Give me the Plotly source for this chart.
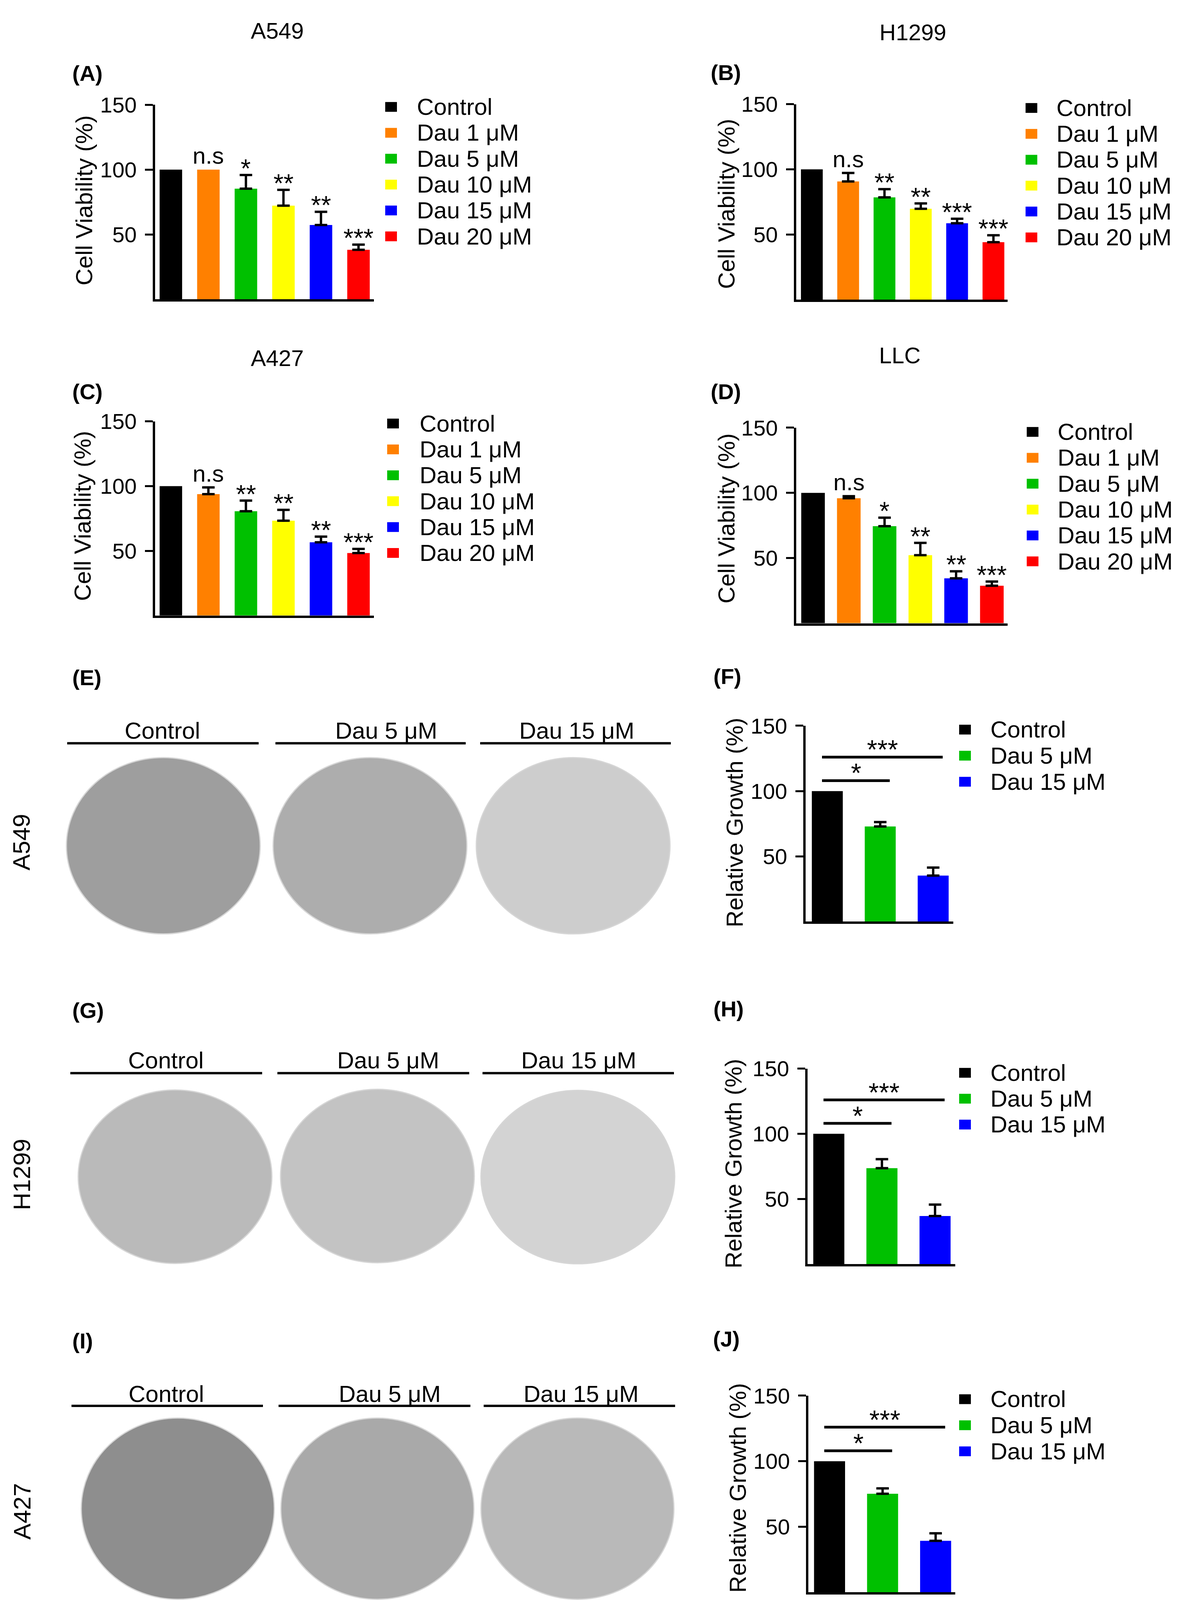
import plotly.graph_objects as go

W, H = 3051, 4539
FONT = "Liberation Sans, Arial, sans-serif"

# treatment groups
conc_labels = ["Control", "Dau 1 μM", "Dau 5 μM", "Dau 10 μM", "Dau 15 μM", "Dau 20 μM"]
conc_colors = ["#000000", "#FF8000", "#00C000", "#FFFF00", "#0000FF", "#FF0000"]
colony_labels = ["Control", "Dau 5 μM", "Dau 15 μM"]
colony_colors = ["#000000", "#00C000", "#0000FF"]

# cell viability (%), mean and upper SD (None = no error bar drawn)
a549_viab = [100, 100, 85.3, 72.2, 57.3, 38.2]
a549_err = [None, None, 10.6, 12.2, 10.2, 4.0]
a549_sig = ["", "n.s", "*", "**", "**", "***"]

h1299_viab = [100, 90.7, 78.5, 69.7, 58.6, 44.1]
h1299_err = [None, 6.5, 6.3, 4.1, 3.5, 5.3]
h1299_sig = ["", "n.s", "**", "**", "***", "***"]

a427_viab = [100, 93.8, 80.6, 73.3, 56.6, 48.3]
a427_err = [None, 5.2, 8.2, 8.4, 4.4, 3.2]
a427_sig = ["", "n.s", "**", "**", "**", "***"]

llc_viab = [100, 95.9, 74.5, 52.2, 34.5, 28.8]
llc_err = [None, 1.6, 6.5, 9.5, 5.4, 3.2]
llc_sig = ["", "n.s", "*", "**", "**", "***"]

# colony formation, relative growth (%)
a549_growth = [100, 72.9, 35.3]
a549_growth_err = [None, 3.4, 6.1]
h1299_growth = [100, 73.6, 36.9]
h1299_growth_err = [None, 6.9, 8.8]
a427_growth = [100, 75.2, 39.3]
a427_growth_err = [None, 4.1, 5.7]
colony_pairs = [(0, 1, "*"), (0, 2, "***")]

y_ticks = [50, 100, 150]


def X(p):
    return p / W


def Y(p):
    return 1 - p / H


bar_panels = [
    dict(vals=a549_viab, errs=a549_err, sig=a549_sig, labels=conc_labels, colors=conc_colors,
         box=(397, 957, 821, 265), xr=[-0.42, 5.41], bw=0.6, tag="(A)", tag_xy=(183, 175),
         title="A549", title_xy=(709, 53), ytitle="Cell Viability (%)", ytitle_xy=(216, 538),
         leg=(1001, 1065, 271, 74)),
    dict(vals=h1299_viab, errs=h1299_err, sig=h1299_sig, labels=conc_labels, colors=conc_colors,
         box=(2038, 2579, 822, 263), xr=[-0.43, 5.39], bw=0.6, tag="(B)", tag_xy=(1817, 173),
         title="H1299", title_xy=(2336, 58), ytitle="Cell Viability (%)", ytitle_xy=(1860, 548),
         leg=(2640, 2702, 274, 74)),
    dict(vals=a427_viab, errs=a427_err, sig=a427_sig, labels=conc_labels, colors=conc_colors,
         box=(397, 957, 1725, 1170), xr=[-0.42, 5.41], bw=0.6, tag="(C)", tag_xy=(183, 1085),
         title="A427", title_xy=(709, 989), ytitle="Cell Viability (%)", ytitle_xy=(212, 1440),
         leg=(1006, 1072, 1176, 74)),
    dict(vals=llc_viab, errs=llc_err, sig=llc_sig, labels=conc_labels, colors=conc_colors,
         box=(2038, 2579, 1747, 1188), xr=[-0.47, 5.44], bw=0.66, tag="(D)", tag_xy=(1817, 1085),
         title="LLC", title_xy=(2303, 981), ytitle="Cell Viability (%)", ytitle_xy=(1860, 1447),
         leg=(2643, 2705, 1200, 74)),
    dict(vals=a549_growth, errs=a549_growth_err, sig=None, labels=colony_labels, colors=colony_colors,
         box=(2062, 2440, 2600, 2040), xr=[-0.41, 2.38], bw=0.585, tag="(F)", tag_xy=(1824, 1899),
         title=None, title_xy=None, ytitle="Relative Growth (%)", ytitle_xy=(1880, 2317),
         leg=(2470, 2533, 2051, 74.5)),
    dict(vals=h1299_growth, errs=h1299_growth_err, sig=None, labels=colony_labels, colors=colony_colors,
         box=(2067, 2445, 3579, 3020), xr=[-0.4, 2.38], bw=0.585, tag="(H)", tag_xy=(1824, 2849),
         title=None, title_xy=None, ytitle="Relative Growth (%)", ytitle_xy=(1877, 3292),
         leg=(2470, 2533, 3032, 74)),
    dict(vals=a427_growth, errs=a427_growth_err, sig=None, labels=colony_labels, colors=colony_colors,
         box=(2069, 2445, 4517, 3955), xr=[-0.4, 2.37], bw=0.585, tag="(J)", tag_xy=(1823, 3793),
         title=None, title_xy=None, ytitle="Relative Growth (%)", ytitle_xy=(1888, 4219),
         leg=(2470, 2533, 3965, 74.5)),
]

# colony photo rows (dishes drawn as flat grey discs)
dish_rows = [
    dict(tag="(E)", tag_xy=(183, 1902), row="A549", row_xy=(54, 2373), label_y=2054,
         label_x=[415, 988, 1476], line_y=2090, lines=[(172, 662), (705, 1192), (1229, 1717)],
         dishes=[(418, 2383), (947, 2383), (1467, 2383)], r=(248, 252),
         tones=["#9e9e9e", "#adadad", "#cdcdcd"]),
    dict(tag="(G)", tag_xy=(183, 2854), row="H1299", row_xy=(56, 3323), label_y=2996,
         label_x=[424, 993, 1481], line_y=3033, lines=[(180, 671), (710, 1201), (1235, 1725)],
         dishes=[(448, 3329), (966, 3327), (1479, 3330)], r=(248, 248),
         tones=["#bababa", "#c3c3c3", "#d3d3d3"]),
    dict(tag="(I)", tag_xy=(183, 3798), row="A427", row_xy=(56, 4286), label_y=3950,
         label_x=[426, 997, 1487], line_y=3984, lines=[(183, 673), (713, 1204), (1238, 1728)],
         dishes=[(455, 4278), (966, 4278), (1478, 4278)], r=(247, 259),
         tones=["#8e8e8e", "#a9a9a9", "#b9b9b9"]),
]

fig = go.Figure()
shapes = []
annotations = []
axes = {}


def text(x, y, s, size=60, bold=False, xanchor="center", yanchor="middle", angle=0):
    annotations.append(dict(
        x=X(x), y=Y(y), xref="paper", yref="paper", text=f"<b>{s}</b>" if bold else s,
        showarrow=False, xanchor=xanchor, yanchor=yanchor, textangle=angle,
        font=dict(family=FONT, size=size, color="black")))


for i, p in enumerate(bar_panels, start=1):
    xa = "x" if i == 1 else f"x{i}"
    ya = "y" if i == 1 else f"y{i}"
    left, right, base, top = p["box"]
    n = len(p["vals"])
    cats = list(range(n))

    fig.add_trace(go.Bar(
        x=cats, y=p["vals"], width=p["bw"], xaxis=xa, yaxis=ya,
        marker=dict(color=p["colors"], line=dict(width=0)),
        hovertext=p["labels"], showlegend=False))

    # upward-only SD bars, only where an error was reported
    has_err = [k for k in cats if p["errs"][k] is not None]
    fig.add_trace(go.Scatter(
        x=has_err, y=[p["vals"][k] for k in has_err], xaxis=xa, yaxis=ya,
        mode="markers", marker=dict(size=1, opacity=0), hoverinfo="skip",
        error_y=dict(type="data", array=[p["errs"][k] for k in has_err],
                     arrayminus=[0] * len(has_err), symmetric=False,
                     color="black", thickness=6, width=16),
        showlegend=False))

    axes["xaxis" if i == 1 else f"xaxis{i}"] = dict(
        domain=[X(left), X(right)], range=p["xr"], anchor=ya, showline=True,
        linecolor="black", linewidth=6, showticklabels=False, ticks="",
        showgrid=False, zeroline=False, fixedrange=True)
    axes["yaxis" if i == 1 else f"yaxis{i}"] = dict(
        domain=[Y(base), Y(top)], range=[0, 150], anchor=xa, showline=True,
        linecolor="black", linewidth=6, ticks="outside", ticklen=20, tickwidth=5,
        tickcolor="black", tickvals=y_ticks, ticklabelstandoff=10,
        tickfont=dict(family=FONT, size=56, color="black"),
        showgrid=False, zeroline=False, fixedrange=True)

    # significance over single bars
    if p["sig"]:
        for k, s in enumerate(p["sig"]):
            if not s:
                continue
            star = "*" in s
            annotations.append(dict(
                x=k, y=p["vals"][k] + (p["errs"][k] or 0), xref=xa, yref=ya, text=s,
                showarrow=False, xanchor="center", yanchor="bottom",
                yshift=-22 if star else 0,
                font=dict(family=FONT, size=66 if star else 60, color="black")))
    else:
        # comparison brackets against control
        for (a, b, s), h in zip(colony_pairs, [108, 126]):
            shapes.append(dict(type="line", xref=xa, yref=ya, x0=a - 0.1, x1=b + 0.18,
                               y0=h, y1=h, line=dict(color="black", width=7)))
            annotations.append(dict(
                x=(a - 0.1 + b + 0.18) / 2, y=h, xref=xa, yref=ya, text=s,
                showarrow=False, xanchor="center", yanchor="bottom", yshift=-20,
                font=dict(family=FONT, size=68, color="black")))

    # manual legend
    sqx, tx, y0, dy = p["leg"]
    for k, (lab, col) in enumerate(zip(p["labels"], p["colors"])):
        ry = y0 + k * dy
        shapes.append(dict(type="rect", xref="paper", yref="paper",
                           x0=X(sqx - 15), x1=X(sqx + 15), y0=Y(ry + 14), y1=Y(ry - 14),
                           fillcolor=col, line=dict(width=0)))
        text(tx, ry, lab, xanchor="left")

    text(p["tag_xy"][0], p["tag_xy"][1], p["tag"], size=56, bold=True, xanchor="left")
    if p["title"]:
        text(p["title_xy"][0], p["title_xy"][1], p["title"], size=58)
    text(p["ytitle_xy"][0], p["ytitle_xy"][1], p["ytitle"], angle=-90)

for row in dish_rows:
    text(row["tag_xy"][0], row["tag_xy"][1], row["tag"], size=56, bold=True, xanchor="left")
    text(row["row_xy"][0], row["row_xy"][1], row["row"], size=62, angle=-90)
    rx, ry = row["r"]
    for lab, lx, (l0, l1), (cx, cy), tone in zip(colony_labels, row["label_x"], row["lines"],
                                                  row["dishes"], row["tones"]):
        text(lx, row["label_y"], lab)
        shapes.append(dict(type="line", xref="paper", yref="paper", x0=X(l0), x1=X(l1),
                           y0=Y(row["line_y"]), y1=Y(row["line_y"]),
                           line=dict(color="black", width=6)))
        shapes.append(dict(type="circle", xref="paper", yref="paper",
                           x0=X(cx - rx), x1=X(cx + rx), y0=Y(cy + ry), y1=Y(cy - ry),
                           fillcolor=tone, line=dict(color="#d6d6d6", width=3)))

fig.update_layout(
    autosize=True,
    margin=dict(l=0, r=0, t=0, b=0),
    paper_bgcolor="white", plot_bgcolor="white",
    font=dict(family=FONT, color="black"),
    showlegend=False,
    shapes=shapes,
    annotations=annotations,
    **axes,
)

# fill the browser window exactly, whatever its inner size
fig.write_html(
    "out.html",
    default_width="100vw",
    default_height="100vh",
    config=dict(displayModeBar=False, responsive=True),
    post_script="document.body.style.margin='0';document.body.style.overflow='hidden';"
                "window.dispatchEvent(new Event('resize'));",
)
